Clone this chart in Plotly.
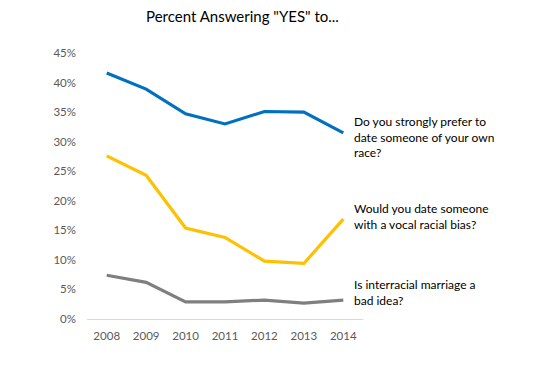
import plotly.graph_objects as go

years = ["2008", "2009", "2010", "2011", "2012", "2013", "2014"]
prefer_own_race = [0.416, 0.389, 0.347, 0.330, 0.351, 0.350, 0.315]
date_biased = [0.276, 0.243, 0.154, 0.138, 0.098, 0.094, 0.169]
interracial_bad = [0.074, 0.062, 0.029, 0.029, 0.032, 0.027, 0.032]

series_labels = [
    "Do you strongly prefer to<br>date someone of your own<br>race?",
    "Would you date someone<br>with a vocal racial bias?",
    "Is interracial marriage a<br>bad idea?",
]
series_values = [prefer_own_race, date_biased, interracial_bad]
colors = ["#0070C0", "#FFC000", "#7F7F7F"]
y_ticks = [0, 0.05, 0.10, 0.15, 0.20, 0.25, 0.30, 0.35, 0.40, 0.45]

FONT = "Lato, 'Liberation Sans', sans-serif"

fig = go.Figure()
for vals, col, lab in zip(series_values, colors, series_labels):
    fig.add_trace(go.Scatter(x=years, y=vals, mode="lines",
                             line=dict(color=col, width=3.2),
                             name=lab.replace("<br>", " "), hoverinfo="y"))

yshifts = [-4, 3, 8]
last_idx = len(years) - 1
for vals, lab, ys in zip(series_values, series_labels, yshifts):
    fig.add_annotation(x=last_idx, y=vals[-1], xref="x", yref="y",
                       text=lab, showarrow=False, xanchor="left", yanchor="middle",
                       align="left", xshift=9, yshift=ys,
                       font=dict(family=FONT, size=12, color="#000000"))

fig.update_layout(
    width=550, height=365,
    margin=dict(l=79, r=195, t=45, b=54),
    paper_bgcolor="white", plot_bgcolor="white",
    showlegend=False,
    title=dict(text='Percent Answering "YES" to...', x=234.5/550, xanchor="center",
               y=1 - 9/365, yanchor="middle",
               font=dict(family=FONT, size=15, color="#000000")),
    font=dict(family=FONT, size=11, color="#595959"),
    xaxis=dict(type="category", range=[-0.5, 6.5], showgrid=False, zeroline=False,
               showline=True, linecolor="#D9D9D9", linewidth=1, ticks="",
               tickfont=dict(family=FONT, size=11.5, color="#595959"), ticklabelstandoff=6),
    yaxis=dict(range=[0, 0.45], tickvals=y_ticks, tickformat=".0%", showgrid=False,
               zeroline=False, showline=False, ticks="",
               tickfont=dict(family=FONT, size=11.5, color="#595959"), ticklabelstandoff=10),
)

fig.write_html("out.html")
